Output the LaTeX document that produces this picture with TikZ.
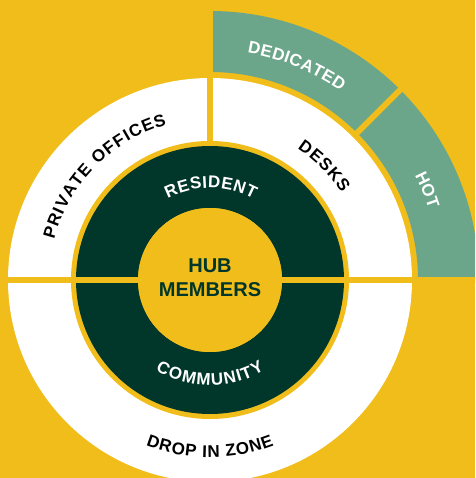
\documentclass[tikz,border=0pt]{standalone}
\usepackage{fontspec}
\setmainfont{Liberation Sans}
\definecolor{hubyellow}{HTML}{F0BD1B}
\definecolor{hubdark}{HTML}{01362A}
\definecolor{hubsage}{HTML}{6BA68A}
\newdimen\arcchw
\newcommand\ringfont{\fontsize{17}{20}\selectfont\bfseries}
\newcommand\arcmeasure[1]{%
  \pgfinterruptpicture
    \settowidth\arcchw{\ringfont #1}\global\arcchw=\arcchw
  \endpgfinterruptpicture
  \edef\arcw{\the\arcchw}}
% #1 baseline radius (pt), #2 centre angle, #3 sense (1 clockwise on top, -1 bottom), #4 tracking (pt), #5 colour, #6 list of characters
\newcommand\arclabel[6]{%
  \gdef\arctot{0}%
  \foreach \lch in {#6}{%
    \arcmeasure{\lch}%
    \pgfmathsetmacro\arctmp{\arctot+\arcw+(#4)}%
    \xdef\arctot{\arctmp}%
  }%
  \pgfmathsetmacro\arctotal{\arctot-(#4)}%
  \xdef\arctotal{\arctotal}%
  \gdef\arcacc{0}%
  \foreach \lch in {#6}{%
    \arcmeasure{\lch}%
    \pgfmathsetmacro\arcmid{\arcacc+\arcw/2-\arctotal/2}%
    \pgfmathsetmacro\arcang{(#2)-(#3)*\arcmid/(#1)*180/pi}%
    \pgfmathsetmacro\arcrot{\arcang-90*(#3)}%
    \node[ringtext,text=#5,rotate=\arcrot] at (\arcang:#1pt) {\lch};
    \pgfmathsetmacro\arctmp{\arcacc+\arcw+(#4)}%
    \xdef\arcacc{\arctmp}%
  }%
}
\begin{document}
\begin{tikzpicture}[x=1pt,y=1pt,
  ringtext/.style={anchor=base,inner sep=0pt,outer sep=0pt,font=\ringfont},
  gapline/.style={draw=hubyellow,line width=6pt},
  hubtext/.style={align=center,text=hubdark,font=\fontsize{20}{24}\selectfont\bfseries}]
\useasboundingbox (-210,-198) rectangle (265,280);
\clip (-210,-198) rectangle (265,280);
\fill[hubyellow] (-210,-198) rectangle (265,280);
% outer green quarter ring
\fill[hubsage] (208,0) arc[start angle=0,end angle=90,radius=208] -- (0,269)
  arc[start angle=90,end angle=0,radius=269] -- cycle;
% white ring
\fill[white] (0,0) circle[radius=202];
\fill[hubyellow] (0,0) circle[radius=139];
% dark ring
\fill[hubdark] (0,0) circle[radius=134];
\node[circle,fill=hubyellow,minimum size=144pt,inner sep=0pt] (hub) at (0,0) {};
% gap lines
\coordinate (hl) at (-206,0);
\coordinate (hr) at (272,0);
\coordinate (vb) at (0,134);
\coordinate (vt) at (0,272);
\coordinate (db) at (45:204);
\coordinate (dt) at (45:272);
\draw[gapline,line width=6.5pt] (hl) -- (hr);
\draw[gapline,line width=5.5pt] (vb) -- (vt);
\draw[gapline] (db) -- (dt);
\fill[hubyellow] (0,0) circle[radius=72];
\node[hubtext] (hubt) at (0,2.5) {HUB\\MEMBERS};
% ring labels
\arclabel{92}{89.5}{1}{0.5}{white}{R,E,S,I,D,E,N,T}
\arclabel{105.5}{270}{-1}{1.2}{white}{C,O,M,M,U,N,I,T,Y}
\arclabel{161}{135.5}{1}{1.15}{black}{P,R,I,V,A,T,E,\space,O,F,F,I,C,E,S}
\arclabel{158}{45}{1}{1.1}{black}{D,E,S,K,S}
\arclabel{177.5}{270}{-1}{0.75}{black}{D,R,O,P,\space,I,N,\space,Z,O,N,E}
\arclabel{230}{68}{1}{0.3}{white}{D,E,D,I,C,A,T,E,D}
\arclabel{230}{22.5}{1}{0.5}{white}{H,O,T}
\end{tikzpicture}
\end{document}
